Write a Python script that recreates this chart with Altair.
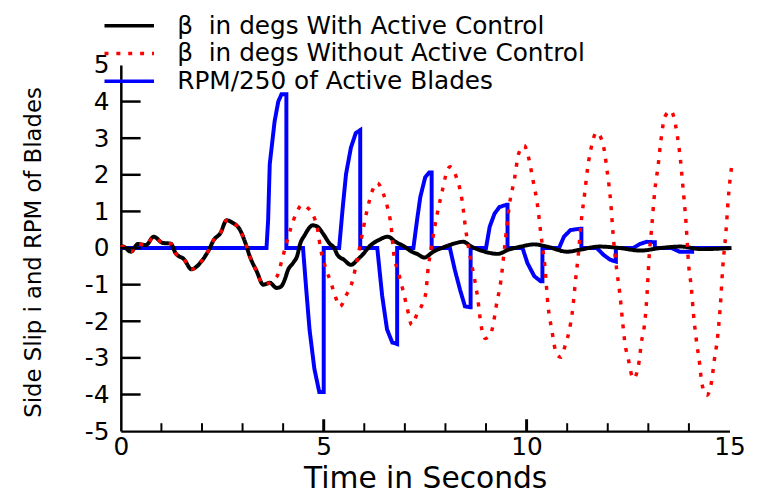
import altair as alt
import pandas as pd

# ---- data ----
# both beta curves coincide until ~3.7 s
t_common = [0.0, 0.05, 0.25, 0.42, 0.62, 0.81, 1.03, 1.23, 1.35, 1.56, 1.74, 1.96, 2.17,
            2.29, 2.45, 2.61, 2.74, 2.94, 3.06, 3.18, 3.35, 3.51, 3.67]
v_common = [0.02, 0.04, -0.1, 0.11, 0.08, 0.31, 0.14, 0.12, -0.14, -0.31, -0.58, -0.4, -0.05,
            0.22, 0.4, 0.76, 0.7, 0.49, 0.17, -0.23, -0.64, -1.0, -0.95]

t_with = [3.84, 3.95, 4.04, 4.12, 4.25, 4.35, 4.41, 4.53, 4.73, 4.85, 4.98, 5.14, 5.26, 5.34,
          5.5, 5.67, 5.83, 5.95, 6.16, 6.36, 6.58, 6.77, 6.99, 7.17, 7.3, 7.48, 7.7, 7.95,
          8.15, 8.44, 8.64, 8.97, 9.29, 9.54, 9.86, 10.19, 10.5, 11.0, 11.3, 11.8, 12.3,
          12.8, 13.3, 13.8, 14.3, 15.05]
v_with = [-1.09, -1.05, -0.86, -0.6, -0.4, -0.2, 0.08, 0.35, 0.62, 0.58, 0.4, 0.13, 0.0, -0.19,
          -0.32, -0.46, -0.32, -0.19, 0.08, 0.22, 0.31, 0.17, 0.04, -0.1, -0.16, -0.26, -0.1, 0.02,
          0.1, 0.17, 0.04, -0.1, -0.16, -0.05, 0.04, 0.1, 0.04, -0.1, -0.05, 0.04, 0.0,
          -0.07, 0.0, 0.04, -0.03, 0.0]

t_without = [3.78, 3.88, 3.96, 4.05, 4.2, 4.32, 4.47, 4.6, 4.72, 4.85, 4.92, 5.05, 5.18, 5.28,
             5.4, 5.55, 5.69, 5.8, 5.9, 6.05, 6.2, 6.32, 6.47, 6.57, 6.66, 6.72, 6.85, 6.95,
             7.05, 7.17, 7.3, 7.44, 7.52, 7.56, 7.65, 7.8, 7.92, 8.0, 8.11, 8.27, 8.41, 8.5,
             8.62, 8.72, 8.8, 8.87, 8.98, 9.1, 9.17, 9.25, 9.37, 9.46, 9.58, 9.7, 9.8, 9.94,
             10.04, 10.16, 10.27, 10.35, 10.45, 10.53, 10.62, 10.74, 10.85, 10.96, 11.04, 11.14,
             11.2, 11.27, 11.35, 11.43, 11.5, 11.61, 11.72, 11.88, 11.98, 12.08, 12.13, 12.22,
             12.3, 12.36, 12.43, 12.5, 12.63, 12.75, 12.83, 12.92, 12.97, 13.02, 13.08, 13.16,
             13.24, 13.31, 13.41, 13.55, 13.71, 13.79, 13.85, 13.93, 13.99, 14.06, 14.11, 14.18,
             14.26, 14.32, 14.44, 14.55, 14.63, 14.71, 14.79, 14.83, 14.91, 14.98, 15.05]
v_without = [-0.85, -0.7, -0.37, 0.0, 0.58, 0.94, 1.18, 1.1, 0.94, 0.5, 0.0, -0.55, -0.95, -1.3,
             -1.6, -1.3, -0.97, -0.45, 0.1, 0.94, 1.57, 1.78, 1.48, 1.12, 0.6, -0.1, -0.7, -1.14,
             -1.6, -2.1, -1.8, -1.5, -1.2, -0.7, 0.0, 0.95, 1.55, 1.95, 2.22, 1.93, 1.3, 0.5,
             -0.3, -0.86, -1.41, -2.05, -2.47, -2.38, -2.13, -1.59, -0.86, 0.04, 1.21, 1.88, 2.56, 2.8,
             2.51, 1.84, 1.16, 0.4, -0.5, -1.59, -2.23, -2.9, -2.98, -2.62, -2.31, -1.63,
             -0.95, -0.23, 0.76, 1.48, 2.15, 2.83, 3.16, 2.85, 2.15, 1.16, 0.4, -0.59,
             -1.27, -1.95, -2.65, -3.0, -3.57, -3.25, -2.58, -1.95, -1.23, -0.23, 0.53, 1.57,
             2.24, 2.94, 3.59, 3.75, 3.1, 2.42, 1.7, 0.67, -0.41, -1.09, -1.77, -2.49,
             -3.12, -3.7, -4.02, -3.7, -3.03, -2.4, -1.32, -0.59, 0.4, 1.48, 2.2]

t_rpm = [0.0, 3.59, 3.63, 3.67, 3.79, 3.88, 3.96, 4.08, 4.08, 4.49, 4.57, 4.65, 4.77, 4.89, 5.0, 5.0,
         5.38, 5.47, 5.55, 5.67, 5.79, 5.9, 5.9, 6.32, 6.44, 6.56, 6.69, 6.81, 6.81,
         7.21, 7.3, 7.38, 7.5, 7.6, 7.66, 7.66, 8.11, 8.23, 8.36, 8.48, 8.6, 8.62, 8.62,
         9.0, 9.09, 9.21, 9.33, 9.5, 9.53, 9.53, 9.9, 10.02, 10.19, 10.35, 10.39, 10.39,
         10.8, 10.92, 11.08, 11.33, 11.35, 11.35, 11.73, 11.9, 12.06, 12.2, 12.2,
         12.63, 12.79, 12.96, 13.14, 13.16, 13.16, 13.57, 13.77, 14.06, 14.08, 14.08, 15.0]
v_rpm = [0.0, 0.0, 0.76, 2.29, 3.46, 4.0, 4.2, 4.2, 0.0, 0.0, -1.14, -2.22, -3.3, -3.93, -3.93, 0.0,
         0.0, 1.12, 2.02, 2.74, 3.14, 3.22, 0.0, 0.0, -1.3, -2.22, -2.58, -2.62, 0.0,
         0.0, 0.76, 1.39, 1.93, 2.06, 2.06, 0.0, 0.0, -0.59, -1.14, -1.59, -1.62, -1.62, 0.0,
         0.0, 0.58, 0.94, 1.12, 1.18, 1.18, 0.0, 0.0, -0.41, -0.77, -0.91, -0.91, 0.0,
         0.0, 0.31, 0.49, 0.53, 0.53, 0.0, 0.0, -0.19, -0.32, -0.37, 0.0,
         0.0, 0.11, 0.17, 0.16, 0.16, 0.0, 0.0, -0.1, -0.1, -0.1, 0.0, 0.0]

series_names = ["β\u00a0 in degs With Active Control",
                "β\u00a0 in degs Without Active Control",
                "RPM/250 of Active Blades"]
series_colors = ["#000000", "#ff0000", "#0000ff"]

x_label_values = [0, 5, 10, 15]
y_label_values = [-5, -4, -3, -2, -1, 0, 1, 2, 3, 4, 5]
y_tick_values = [-4, -3, -2, -1, 0, 1, 2, 3, 4]
x_major_ticks = [5, 10]
x_minor_ticks = [1, 2, 3, 4, 6, 7, 8, 9, 11, 12, 13, 14]

# ---- build table ----
rows = []
curves = [
    (series_names[0], t_common + t_with, v_common + v_with),
    (series_names[1], t_common + t_without, v_common + v_without),
    (series_names[2], t_rpm, v_rpm),
]
for name, ts, vs in curves:
    for i, (t, v) in enumerate(zip(ts, vs)):
        rows.append({"series": name, "t": t, "v": v, "i": i})
df = pd.DataFrame(rows)

W, H = 615, 370
FONT = "DejaVu Sans"

xscale = alt.Scale(domain=[0, 15], nice=False, zero=False)
yscale = alt.Scale(domain=[-5, 5], nice=False, zero=False)
color_scale = alt.Scale(domain=series_names, range=series_colors)
dash_scale = alt.Scale(domain=series_names, range=[[1, 0], [4, 8], [1, 0]])

legend = alt.Legend(
    orient="none", legendX=-4, legendY=-52, title=None, direction="vertical",
    labelFont=FONT, labelFontSize=25, labelColor="#000000", labelLimit=0,
    symbolType="M-2.5,0H2.5", symbolSize=400, symbolStrokeWidth=3.5,
    symbolFillColor="transparent", labelOffset=36,
    rowPadding=2, padding=0,
)

x_axis = alt.Axis(
    values=x_label_values, labelExpr="'' + datum.value", labelFont=FONT, labelFontSize=25,
    labelColor="#000000", tickSize=0, labelPadding=4, domainColor="#000000", domainWidth=2.5,
    grid=False, title="Time in Seconds", titleFont=FONT, titleFontSize=30,
    titleFontWeight="normal", titleColor="#000000", titleY=48, titleBaseline="middle",
    labelFlush=False,
)
y_axis = alt.Axis(
    values=y_label_values, labelExpr="'' + datum.value", labelFont=FONT, labelFontSize=25,
    labelColor="#000000", tickSize=0, labelPadding=12, domainColor="#000000", domainWidth=2.5,
    grid=False, title="Side Slip i and RPM of Blades", titleFont=FONT, titleFontSize=23,
    titleFontWeight="normal", titleColor="#000000", titleAngle=270, titleX=-88,
    titleY=H / 2 + 4, titleBaseline="middle", titleAlign="center", labelFlush=False,
)

X = alt.X("t:Q", scale=xscale, axis=x_axis)
Y = alt.Y("v:Q", scale=yscale, axis=y_axis)

enc_common = dict(
    color=alt.Color("series:N", scale=color_scale, legend=legend),
    strokeDash=alt.StrokeDash("series:N", scale=dash_scale, legend=legend),
    order=alt.Order("i:Q"),
)

rpm_layer = alt.Chart(df).transform_filter(
    alt.datum.series == series_names[2]
).mark_line(interpolate="linear", strokeCap="butt", strokeJoin="miter", strokeWidth=4,
            clip=False).encode(x=X, y=Y, **enc_common)

black_layer = alt.Chart(df).transform_filter(
    alt.datum.series == series_names[0]
).mark_line(interpolate="monotone", strokeCap="butt", strokeWidth=4,
            clip=False).encode(x=X, y=Y, **enc_common)

red_layer = alt.Chart(df).transform_filter(
    alt.datum.series == series_names[1]
).mark_line(interpolate="monotone", strokeCap="butt", strokeWidth=3.5,
            clip=False).encode(x=X, y=Y, **enc_common)

ytick_df = pd.DataFrame({"v": y_tick_values})
ytick_layer = alt.Chart(ytick_df).mark_rule(color="#000000", strokeWidth=2.5).encode(
    y=Y, x=alt.value(0), x2=alt.value(20),
)
xmaj_df = pd.DataFrame({"t": x_major_ticks})
xmaj_layer = alt.Chart(xmaj_df).mark_rule(color="#000000", strokeWidth=3).encode(
    x=X, y=alt.value(H), y2=alt.value(H - 12),
)
xmin_df = pd.DataFrame({"t": x_minor_ticks})
xmin_layer = alt.Chart(xmin_df).mark_rule(color="#000000", strokeWidth=2).encode(
    x=X, y=alt.value(H), y2=alt.value(H - 8),
)

chart = alt.layer(
    rpm_layer, black_layer, red_layer, ytick_layer, xmaj_layer, xmin_layer
).properties(
    width=W, height=H,
    autosize=alt.AutoSizeParams(type="none"),
    padding={"left": 114, "top": 55, "right": 47, "bottom": 62},
    background="#ffffff",
).configure_view(stroke=None)

chart.save("out.html", embed_options={"renderer": "svg", "actions": False})
